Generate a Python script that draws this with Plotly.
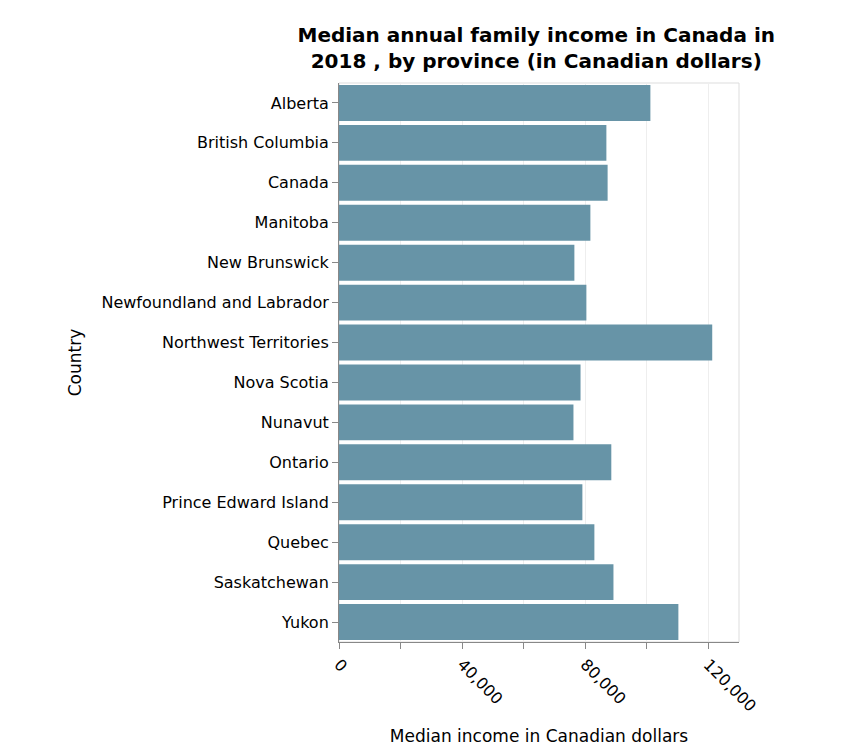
import plotly.graph_objects as go

provinces = ["Alberta", "British Columbia", "Canada", "Manitoba", "New Brunswick",
             "Newfoundland and Labrador", "Northwest Territories", "Nova Scotia",
             "Nunavut", "Ontario", "Prince Edward Island", "Quebec",
             "Saskatchewan", "Yukon"]
income = [101200, 86900, 87300, 81700, 76500, 80400, 121300, 78500,
          76200, 88500, 79100, 83000, 89200, 110300]

tick_vals = [0, 20000, 40000, 60000, 80000, 100000, 120000]
tick_text = ["0", "", "40,000", "", "80,000", "", "120,000"]

fig = go.Figure(go.Bar(x=income, y=provinces, orientation="h",
                       marker_color="#6794a7", marker_line_width=0))

fig.update_layout(
    width=852, height=746,
    margin=dict(l=331, r=121, t=75, b=112, autoexpand=False),
    plot_bgcolor="white", paper_bgcolor="white",
    font=dict(family="DejaVu Sans", color="black", size=13),
    title=dict(text="<b>Median annual family income in Canada in<br>2018 , by province (in Canadian dollars)</b>",
               x=0.62, xanchor="center", y=0.955, yanchor="top",
               automargin=False,
               font=dict(size=20, family="DejaVu Sans")),
    bargap=0.1,
    showlegend=False,
)
fig.update_xaxes(range=[0, 130000], tickvals=tick_vals, ticktext=tick_text,
                 tickangle=45, ticks="outside", ticklen=6, tickcolor="#888",
                 showgrid=True, gridcolor="#eeeeee", zeroline=False,
                 showline=True, linecolor="#888", automargin=False,
                 title=dict(text="Median income in Canadian dollars", font=dict(size=17)),
                 tickfont=dict(size=16))
fig.update_yaxes(autorange="reversed", ticks="outside", ticklen=6, tickcolor="#888",
                 showline=True, linecolor="#888", automargin=False,
                 title=dict(text="Country", font=dict(size=17)),
                 tickfont=dict(size=16))
fig.add_shape(type="rect", xref="paper", yref="paper", x0=0, x1=1, y0=0, y1=1,
              line=dict(color="#dddddd", width=1), layer="below")

fig.write_html("out.html")
